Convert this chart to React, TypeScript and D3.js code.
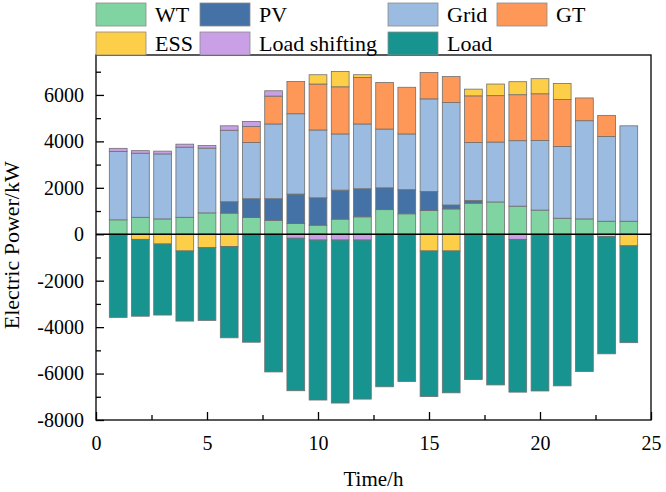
import React, { useEffect, useRef } from 'react';
import * as d3 from 'd3';

const hours = [1, 2, 3, 4, 5, 6, 7, 8, 9, 10, 11, 12, 13, 14, 15, 16, 17, 18, 19, 20, 21, 22, 23, 24];
const WT = [620, 730, 660, 730, 920, 910, 720, 600, 460, 390, 650, 750, 1060, 880, 1020, 1090, 1340, 1390, 1210, 1040, 690, 660, 560, 560];
const PV = [0, 0, 0, 0, 0, 490, 810, 930, 1270, 1180, 1250, 1210, 940, 1040, 820, 170, 110, 0, 0, 0, 0, 0, 0, 0];
const Grid = [2950, 2760, 2800, 3020, 2790, 3080, 2420, 3220, 3460, 2920, 2420, 2790, 2530, 2400, 3990, 4410, 2500, 2580, 2820, 3000, 3090, 4230, 3650, 4110];
const GT = [0, 0, 0, 0, 0, 0, 690, 1200, 1390, 1980, 2030, 2000, 2010, 2010, 1140, 1120, 2010, 2000, 1980, 2010, 2020, 980, 910, 0];
const ESS = [-30, -220, -420, -720, -580, -530, 0, 0, 0, 400, 660, 120, 0, 0, -720, -720, 290, 500, 560, 650, 690, 0, -100, -500];
const LoadShifting = [130, 110, 120, 130, 110, 190, 220, 230, -170, -250, -250, -250, 0, 0, 0, 0, 0, 0, -220, 0, 0, 0, 0, 0];
const Load = [-3550, -3310, -3060, -3020, -3130, -3930, -4650, -5930, -6570, -6890, -7020, -6850, -6570, -6340, -6270, -6110, -6260, -6490, -6580, -6750, -6530, -5910, -5050, -4170];

const seriesNames = ['WT', 'PV', 'Grid', 'GT', 'ESS', 'Load shifting', 'Load'];
const seriesValues = [WT, PV, Grid, GT, ESS, LoadShifting, Load];
const colors = ['#80d4a1', '#4472a6', '#9bbbe0', '#fd9858', '#fdcf48', '#c9a0e6', '#17948f'];

const yTicks = [-8000, -6000, -4000, -2000, 0, 2000, 4000, 6000];
const xTicks = [0, 5, 10, 15, 20, 25];

export default function App() {
  const ref = useRef<SVGSVGElement>(null);

  useEffect(() => {
    const margin = { top: 55, right: 15, bottom: 72, left: 96 };
    const width = 666 - margin.left - margin.right;
    const height = 492 - margin.top - margin.bottom;
    const font = '"Liberation Serif", "Times New Roman", serif';

    const svg = d3.select(ref.current);
    svg.selectAll('*').remove();

    // build table for stacking
    const table = hours.map((h, i) => {
      const row: any = { hour: h };
      seriesNames.forEach((n, k) => { row[n] = seriesValues[k][i]; });
      return row;
    });

    const stacked = d3.stack<any>()
      .keys(seriesNames)
      .offset(d3.stackOffsetDiverging)(table);

    const x = d3.scaleLinear().domain([0, 25]).range([0, width]);
    const y = d3.scaleLinear().domain([-8000, 7720]).range([height, 0]);
    const barW = (x(1) - x(0)) * 0.8;

    const g = svg.append('g')
      .attr('transform', 'translate(' + margin.left + ',' + margin.top + ')');

    // bars
    g.append('g')
      .selectAll('g')
      .data(stacked)
      .enter()
      .append('g')
      .attr('fill', (d, i) => colors[i])
      .selectAll('rect')
      .data(d => d.filter(s => s[1] - s[0] !== 0))
      .enter()
      .append('rect')
      .attr('x', d => x(d.data.hour) - barW / 2)
      .attr('y', d => y(Math.max(d[0], d[1])))
      .attr('width', barW)
      .attr('height', d => Math.abs(y(d[0]) - y(d[1])))
      .attr('stroke', '#6f6f6f')
      .attr('stroke-width', 0.8);

    // zero line
    g.append('line')
      .attr('x1', 0).attr('x2', width)
      .attr('y1', y(0)).attr('y2', y(0))
      .attr('stroke', '#000').attr('stroke-width', 1.4);

    // frame
    g.append('rect')
      .attr('width', width).attr('height', height)
      .attr('fill', 'none').attr('stroke', '#000').attr('stroke-width', 1.3);

    // y axis, ticks inward, plain hyphen for minus
    const yAxis = d3.axisLeft(y).tickValues(yTicks).tickSize(-8).tickPadding(12).tickFormat(d => String(d));
    const ya = g.append('g').call(yAxis);
    ya.select('.domain').remove();
    ya.selectAll('text').style('font-family', font).style('font-size', '20px').attr('fill', '#000');
    g.append('g').call(
      d3.axisLeft(y).tickValues(d3.range(-7000, 7001, 2000)).tickSize(-5).tickFormat(() => '')
    ).select('.domain').remove();

    // x axis, ticks inward
    const xAxis = d3.axisBottom(x).tickValues(xTicks).tickSize(-8).tickPadding(16);
    const xa = g.append('g').attr('transform', 'translate(0,' + height + ')').call(xAxis);
    xa.select('.domain').remove();
    xa.selectAll('text').style('font-family', font).style('font-size', '20px').attr('fill', '#000');
    g.append('g').attr('transform', 'translate(0,' + height + ')').call(
      d3.axisBottom(x).tickValues([2.5, 7.5, 12.5, 17.5, 22.5]).tickSize(-5).tickFormat(() => '')
    ).select('.domain').remove();
    g.selectAll('.tick line').attr('stroke', '#000').attr('stroke-width', 1.3);

    // axis titles
    svg.append('text')
      .attr('x', margin.left + width / 2)
      .attr('y', 486)
      .attr('text-anchor', 'middle')
      .style('font-family', font)
      .style('font-size', '21px')
      .text('Time/h');

    svg.append('text')
      .attr('transform', 'translate(19,' + (margin.top + y(0) + 11) + ') rotate(-90)')
      .attr('text-anchor', 'middle')
      .style('font-family', font)
      .style('font-size', '22px')
      .text('Electric Power/kW');

    // legend
    const legendPos = [
      [96, 3], [200, 3], [388, 3], [497, 3],
      [96, 32], [200, 32], [388, 32],
    ];
    const order = ['WT', 'PV', 'Grid', 'GT', 'ESS', 'Load shifting', 'Load'];
    order.forEach((name, i) => {
      const k = seriesNames.indexOf(name);
      const [lx, ly] = legendPos[i];
      svg.append('rect')
        .attr('x', lx).attr('y', ly)
        .attr('width', 50).attr('height', 23)
        .attr('fill', colors[k])
        .attr('stroke', '#8a8a8a').attr('stroke-width', 0.8);
      svg.append('text')
        .attr('x', lx + 59).attr('y', ly + 19)
        .style('font-family', font)
        .style('font-size', '22px')
        .text(name);
    });
  }, []);

  return (
    <svg ref={ref} width={666} height={492} style={{ position: 'absolute', left: 0, top: 0 }} />
  );
}
